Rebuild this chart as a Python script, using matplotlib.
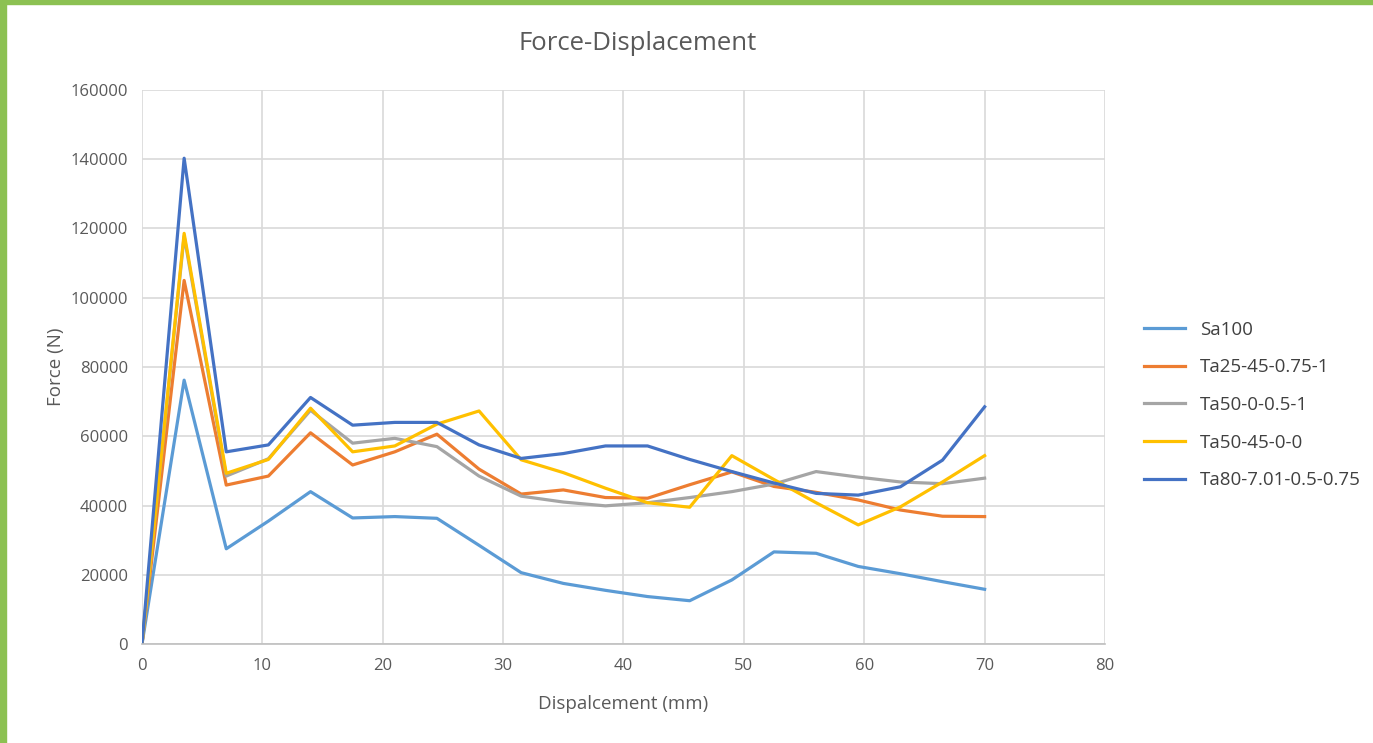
import matplotlib.pyplot as plt
from matplotlib.patches import Rectangle

plt.rcParams['font.family'] = ['Open Sans', 'DejaVu Sans']

# displacement (mm), one point every 3.5 mm
disp = [0, 3.5, 7, 10.5, 14, 17.5, 21, 24.5, 28, 31.5, 35,
        38.5, 42, 45.5, 49, 52.5, 56, 59.5, 63, 66.5, 70]

sa100 = [0, 76200, 27500, 35500, 44000, 36400, 36800, 36300, 28500, 20600, 17500,
         15500, 13700, 12500, 18500, 26600, 26200, 22400, 20300, 18000, 15800]
ta25 = [0, 105000, 45900, 48500, 61000, 51700, 55500, 60600, 50500, 43300, 44500,
        42300, 42100, 46000, 49700, 45500, 43800, 41600, 38700, 36900, 36800]
ta50_0 = [0, 117800, 48500, 53500, 67500, 58000, 59400, 57000, 48500, 42700, 41000,
          39900, 40800, 42300, 44000, 46200, 49800, 48200, 46800, 46300, 47900]
ta50_45 = [0, 118600, 49300, 53300, 68100, 55500, 57200, 63500, 67300, 53200, 49500,
           45000, 40800, 39500, 54400, 47500, 40800, 34400, 39600, 46800, 54400]
ta80 = [0, 140300, 55500, 57500, 71200, 63200, 64000, 64000, 57500, 53600, 55000,
        57200, 57200, 53300, 49800, 46500, 43500, 43000, 45400, 53100, 68500]

labels = ['Sa100', 'Ta25-45-0.75-1', 'Ta50-0-0.5-1', 'Ta50-45-0-0', 'Ta80-7.01-0.5-0.75']
colors = ['#5B9BD5', '#ED7D31', '#A5A5A5', '#FFC000', '#4472C4']
series = [sa100, ta25, ta50_0, ta50_45, ta80]

fig = plt.figure(figsize=(13.73, 7.43), dpi=100)
ax = fig.add_axes([142 / 1373, 1 - 644 / 743, (1105 - 142) / 1373, (644 - 90) / 743])

for vals, lab, col in zip(series, labels, colors):
    ax.plot(disp, vals, color=col, lw=2.3, label=lab)

ax.set_xlim(0, 80)
ax.set_ylim(0, 160000)
ax.set_xticks(range(0, 81, 10))
ax.set_yticks(range(0, 160001, 20000))
ax.grid(True, color='#D9D9D9', lw=1.2)
ax.set_axisbelow(True)
for s in ['top', 'right', 'left']:
    ax.spines[s].set_visible(False)
ax.spines['bottom'].set_color('#BFBFBF')
ax.spines['bottom'].set_linewidth(1.2)
ax.tick_params(length=0, labelsize=12, colors='#595959', pad=10)

ax.set_xlabel('Dispalcement (mm)', fontsize=13.5, color='#595959', labelpad=15)
ax.set_ylabel('Force (N)', fontsize=13.5, color='#595959', labelpad=4)
fig.text(638 / 1373, 1 - 43 / 743, 'Force-Displacement', fontsize=18.5, color='#595959',
         ha='center', va='center')

fig.legend(loc='center left', bbox_to_anchor=(1144 / 1373, 1 - 405 / 743), frameon=False,
           fontsize=13.5, labelcolor='#404040', handlelength=2.2, labelspacing=1.05,
           handletextpad=0.8, borderpad=0, borderaxespad=0)

# green border at top and left of the screenshot
fig.patches.append(Rectangle((0, 1 - 4 / 743), 1, 4 / 743, transform=fig.transFigure,
                             color='#8CC152', zorder=10))
fig.patches.append(Rectangle((0, 0), 6 / 1373, 1, transform=fig.transFigure,
                             color='#8CC152', zorder=10))

fig.savefig('out.png', dpi=100)
